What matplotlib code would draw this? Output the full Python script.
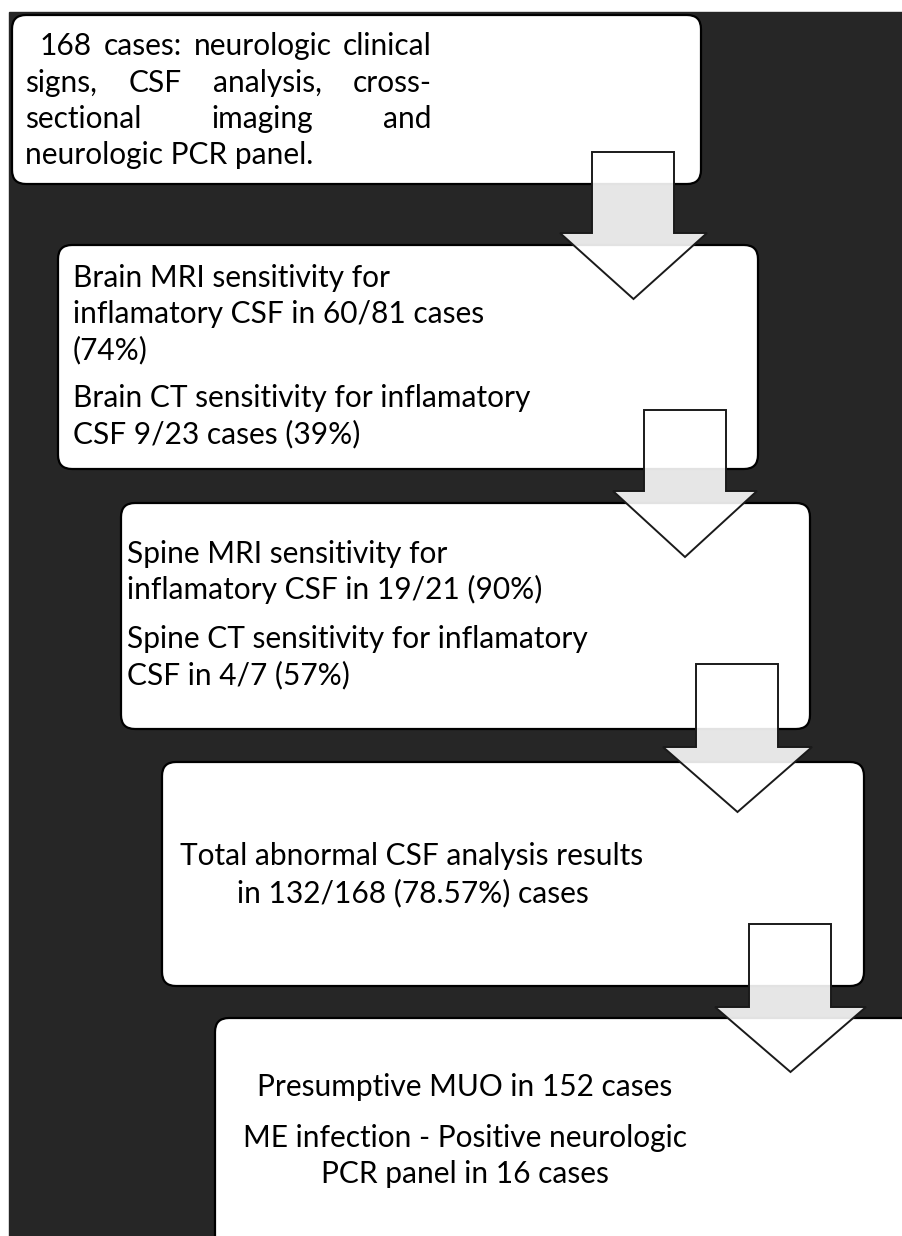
import matplotlib
matplotlib.use("Agg")
import matplotlib.pyplot as plt
from matplotlib.patches import FancyBboxPatch, Polygon, Rectangle

# texts of the five boxes
box1_lines = ["168 cases: neurologic clinical",
              "signs, CSF analysis, cross-",
              "sectional imaging and",
              "neurologic PCR panel."]
box2_lines = ["Brain MRI sensitivity for",
              "inflamatory CSF in 60/81 cases",
              "(74%)",
              "Brain CT sensitivity for inflamatory",
              "CSF 9/23 cases (39%)"]
box3_lines = ["Spine MRI sensitivity for",
              "inflamatory CSF in 19/21 (90%)",
              "Spine CT sensitivity for inflamatory",
              "CSF in 4/7 (57%)"]
box4_lines = ["Total abnormal CSF analysis results",
              "in 132/168 (78.57%) cases"]
box5_lines = ["Presumptive MUO in 152 cases",
              "ME infection - Positive neurologic",
              "PCR panel in 16 cases"]

# layout in pixels (x0, y0, x1, y1), y grows downward
boxes = [(12, 15, 701, 184),
         (58, 245, 758, 469),
         (121, 503, 810, 729),
         (162, 762, 864, 986),
         (215, 1018, 915, 1260)]
# arrows: shaft left, shaft right, top, head y, head left, head right, tip y
arrows = [(592, 674, 152, 233, 560, 707, 299),
          (644, 726, 410, 491, 613, 757, 557),
          (696, 778, 664, 747, 663, 812, 812),
          (749, 831, 924, 1007, 715, 866, 1072)]

W, H = 903, 1236
FONT = "Lato"
FS = 21.5
dark = "#262626"

fig = plt.figure(figsize=(W / 100, H / 100), dpi=100)
ax = fig.add_axes([0, 0, 1, 1])
ax.set_xlim(0, W)
ax.set_ylim(H, 0)
ax.axis("off")

ax.add_patch(Rectangle((9, 12), W, H, color=dark, zorder=0))

for x0, y0, x1, y1 in boxes:
    ax.add_patch(FancyBboxPatch((x0, y0), x1 - x0, y1 - y0,
                                boxstyle="round,pad=0,rounding_size=14",
                                fc="white", ec="black", lw=1.6, zorder=1))

for sl, sr, top, hy, hl, hr, ty in arrows:
    pts = [(sl, top), (sr, top), (sr, hy), (hr, hy), ((hl + hr) / 2, ty),
           (hl, hy), (sl, hy)]
    ax.add_patch(Polygon(pts, closed=True, fc=(1, 1, 1, 0.89), ec="#1a1a1a",
                         lw=1.4, zorder=3))

renderer = fig.canvas.get_renderer()


def word_width(w):
    t = ax.text(0, 0, w, fontsize=FS, family=FONT)
    bb = t.get_window_extent(renderer)
    t.remove()
    return bb.width


def justify(line, x0, x1, y):
    words = line.split()
    widths = [word_width(w) for w in words]
    gap = (x1 - x0 - sum(widths)) / (len(words) - 1)
    x = x0
    for w, wd in zip(words, widths):
        ax.text(x, y, w, fontsize=FS, family=FONT, va="baseline", zorder=2)
        x += wd + gap


def put(x, y, s, ha="left"):
    ax.text(x, y, s, fontsize=FS, family=FONT, va="baseline", ha=ha, zorder=2)


# box 1: justified paragraph
justify(box1_lines[0], 40, 432, 55)
justify(box1_lines[1], 25, 432, 92)
justify(box1_lines[2], 25, 432, 128)
put(25, 164, box1_lines[3])

# box 2
for s, y in zip(box2_lines, [287, 323, 359, 407, 443]):
    put(73, y, s)

# box 3
for s, y in zip(box3_lines, [563, 599, 648, 684]):
    put(127, y, s)

# box 4
put(180, 865, box4_lines[0])
put(237, 902, box4_lines[1])

# box 5
for s, y in zip(box5_lines, [1096, 1147, 1183]):
    put(465, y, s, ha="center")

fig.savefig("out.png", dpi=100)
